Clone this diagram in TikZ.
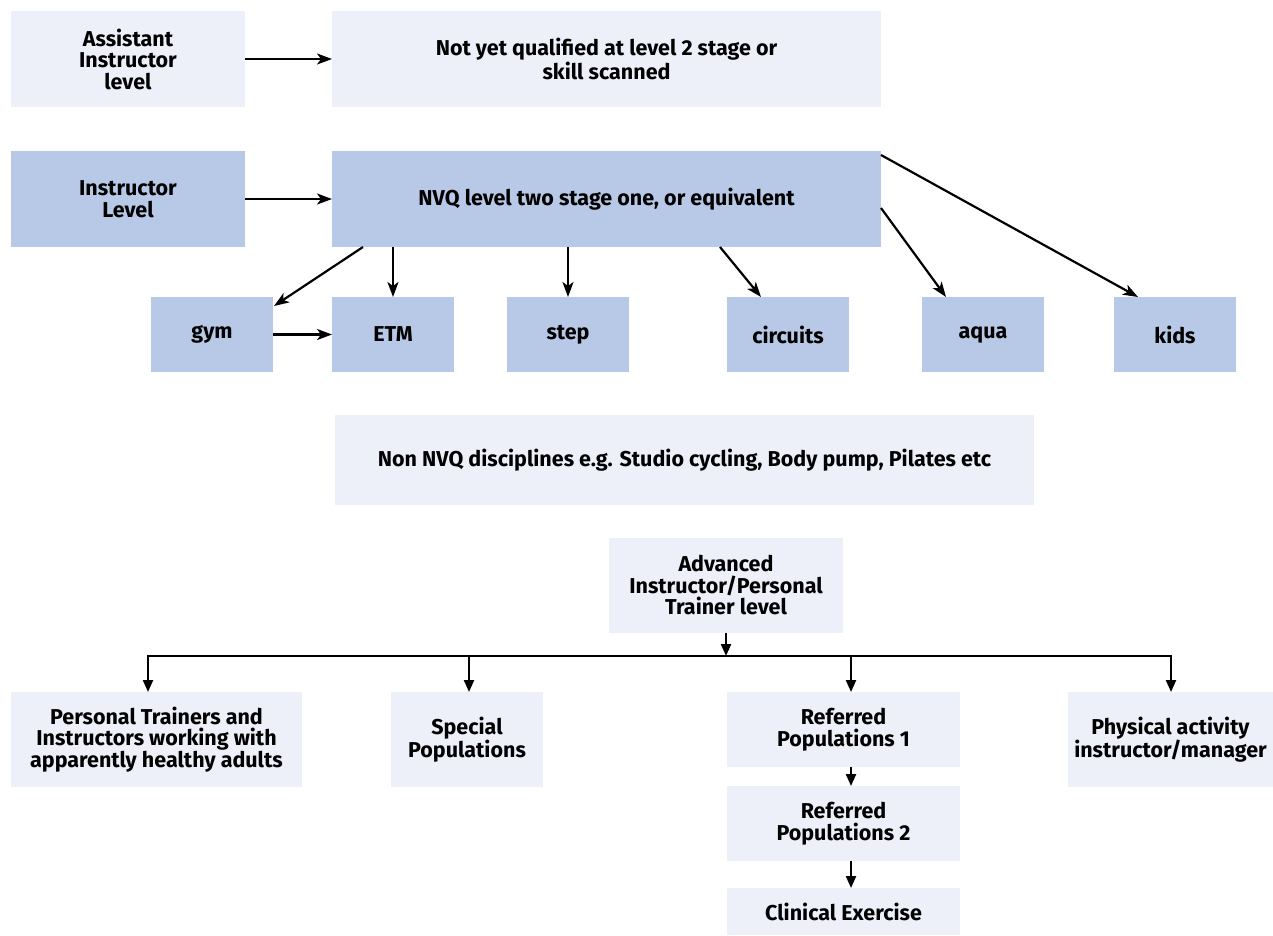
\documentclass[tikz,border=0pt]{standalone}
\usepackage{fontspec}
\setmainfont{Fira Sans}
\usetikzlibrary{arrows.meta}
\definecolor{lightbox}{RGB}{237,240,248}
\definecolor{darkbox}{RGB}{183,201,230}
\begin{document}
\begin{tikzpicture}[x=1pt,y=-1pt,
  box/.style={rectangle,inner sep=0pt,outer sep=0pt,align=center,
    font=\fontsize{21.5}{21.5}\selectfont\bfseries},
  lbox/.style={box,fill=lightbox},
  dbox/.style={box,fill=darkbox},
  arrT/.style={line width=2.2pt,-{Stealth[length=15pt,width=11pt,inset=4pt]}},
  arrB/.style={line width=2.2pt,-{Triangle[length=12pt,width=10pt]}}]
\useasboundingbox (0,0) rectangle (1273,935);
% top rows
\node[lbox,minimum width=234pt,minimum height=96pt] (asst) at (128,59) {Assistant\\Instructor\\level};
\node[lbox,minimum width=549pt,minimum height=96pt] (notyet) at (606.5,59) {Not yet qualified at level 2 stage or\\skill scanned};
\node[dbox,minimum width=234pt,minimum height=96pt] (instr) at (128,199) {Instructor\\Level};
\node[dbox,minimum width=549pt,minimum height=96pt] (nvq) at (606.5,199) {NVQ level two stage one, or equivalent};
% disciplines
\node[dbox,minimum width=122pt,minimum height=75pt] (gym) at (212,334.5) {gym};
\node[dbox,minimum width=122pt,minimum height=75pt] (etm) at (393,334.5) {ETM};
\node[dbox,minimum width=122pt,minimum height=75pt] (stepb) at (568,334.5) {step};
\node[dbox,minimum width=122pt,minimum height=75pt] (circ) at (788,334.5) {circuits};
\node[dbox,minimum width=122pt,minimum height=75pt] (aqua) at (983,334.5) {aqua};
\node[dbox,minimum width=122pt,minimum height=75pt] (kids) at (1175,334.5) {kids};
\node[lbox,minimum width=699pt,minimum height=90pt] (nonnvq) at (684.5,460) {Non NVQ disciplines e.g. Studio cycling, Body pump, Pilates etc};
% advanced
\node[lbox,minimum width=234pt,minimum height=95pt] (adv) at (726,585.5) {Advanced\\Instructor/Personal\\Trainer level};
\node[lbox,minimum width=291pt,minimum height=95pt] (pt) at (156.5,739.5) {Personal Trainers and\\Instructors working with\\apparently healthy adults};
\node[lbox,minimum width=152pt,minimum height=95pt] (sp) at (467,739.5) {Special\\Populations};
\node[lbox,minimum width=233pt,minimum height=75pt] (ref1) at (843.5,729.5) {Referred\\Populations 1};
\node[lbox,minimum width=233pt,minimum height=75pt] (ref2) at (843.5,823.5) {Referred\\Populations 2};
\node[lbox,minimum width=233pt,minimum height=47pt] (clin) at (843.5,911.5) {Clinical Exercise};
\node[lbox,minimum width=205pt,minimum height=95pt] (phys) at (1170.5,739.5) {Physical activity\\instructor/manager};
% top connectors
\draw[arrT] (asst.east) -- (notyet.west);
\draw[arrT] (instr.east) -- (nvq.west);
\draw[arrT] ([xshift=31pt]nvq.south west) -- ([xshift=1pt,yshift=-9pt]gym.north east);
\draw[arrT] (nvq.south -| etm.north) -- (etm.north);
\draw[arrT] (nvq.south -| stepb.north) -- (stepb.north);
\draw[arrT] ([xshift=388pt]nvq.south west) -- ([xshift=34pt]circ.north west);
\draw[arrT] ([yshift=-57pt]nvq.north east) -- ([xshift=24pt]aqua.north west);
\draw[arrT] ([yshift=-4pt]nvq.north east) -- ([xshift=24pt]kids.north west);
\draw[arrT] (gym.east) -- (etm.west);
% bottom tree
\coordinate (busL) at (148,656);
\coordinate (busR) at (1171,656);
\draw[arrB] (adv.south) -- (adv.south |- busL);
\draw[arrB] (busR) -- (busL) -- (busL |- pt.north);
\draw[arrB] (busL) -- (busR) -- (busR |- phys.north);
\draw[arrB] ([xshift=2pt]sp.north |- busL) -- ([xshift=2pt]sp.north);
\draw[arrB] ([xshift=7.5pt]ref1.north |- busL) -- ([xshift=7.5pt]ref1.north);
\draw[arrB] ([xshift=7.5pt]ref1.south) -- ([xshift=7.5pt]ref2.north);
\draw[arrB] ([xshift=7.5pt]ref2.south) -- ([xshift=7.5pt]clin.north);
\end{tikzpicture}
\end{document}
